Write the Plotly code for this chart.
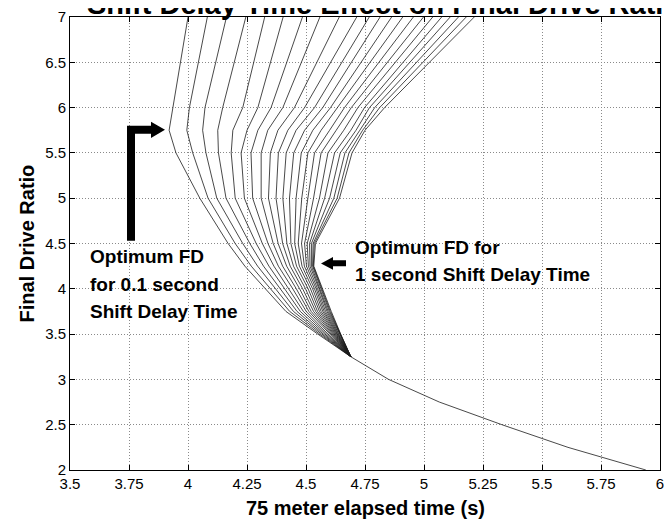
import plotly.graph_objects as go

# ---------------- data ----------------
fd_levels = [7.0, 6.0, 5.75, 5.5, 5.0, 4.5, 4.25, 4.0, 3.75, 3.5]
x_fd_700 = [4.000, 4.082, 4.163, 4.245, 4.325, 4.403, 4.485, 4.559, 4.641, 4.715, 4.768,
            4.814, 4.863, 4.910, 4.955, 4.998, 5.037, 5.075, 5.111, 5.146, 5.179, 5.213]
x_fd_600 = [3.935, 4.006, 4.072, 4.147, 4.232, 4.296, 4.352, 4.402, 4.451, 4.494, 4.536,
            4.571, 4.604, 4.635, 4.663, 4.692, 4.720, 4.748, 4.769, 4.791, 4.812, 4.833]
x_fd_575 = [3.920, 3.995, 4.062, 4.126, 4.190, 4.250, 4.296, 4.338, 4.381, 4.423, 4.458,
            4.494, 4.529, 4.564, 4.600, 4.628, 4.660, 4.690, 4.712, 4.728, 4.740, 4.750]
x_fd_550 = [3.949, 4.020, 4.076, 4.129, 4.183, 4.225, 4.267, 4.310, 4.349, 4.383, 4.416,
            4.448, 4.480, 4.508, 4.536, 4.564, 4.593, 4.621, 4.645, 4.665, 4.682, 4.695]
x_fd_500 = [4.050, 4.085, 4.122, 4.161, 4.200, 4.239, 4.274, 4.310, 4.341, 4.373, 4.402,
            4.430, 4.458, 4.482, 4.508, 4.532, 4.557, 4.579, 4.600, 4.618, 4.632, 4.642]
x_fd_450 = [4.170, 4.200, 4.232, 4.262, 4.289, 4.315, 4.339, 4.361, 4.382, 4.401, 4.419,
            4.436, 4.452, 4.467, 4.481, 4.494, 4.505, 4.515, 4.523, 4.530, 4.535, 4.540]
x_fd_425 = [4.241, 4.268, 4.295, 4.320, 4.343, 4.364, 4.383, 4.401, 4.418, 4.433, 4.447,
            4.460, 4.472, 4.483, 4.493, 4.502, 4.510, 4.517, 4.523, 4.528, 4.531, 4.533]
x_fd_400 = [4.328, 4.350, 4.372, 4.392, 4.411, 4.428, 4.444, 4.459, 4.473, 4.486, 4.498,
            4.509, 4.519, 4.528, 4.536, 4.543, 4.549, 4.555, 4.560, 4.564, 4.567, 4.569]
x_fd_375 = [4.415, 4.431, 4.447, 4.462, 4.476, 4.489, 4.501, 4.512, 4.522, 4.532, 4.541,
            4.549, 4.557, 4.564, 4.571, 4.577, 4.583, 4.589, 4.594, 4.599, 4.603, 4.607]
x_fd_350 = [4.550, 4.558, 4.566, 4.573, 4.580, 4.587, 4.593, 4.599, 4.604, 4.609, 4.614,
            4.619, 4.623, 4.627, 4.631, 4.635, 4.638, 4.641, 4.643, 4.645, 4.646, 4.647]
# common point where all curves meet, and the shared tail
merge_fd = 3.25
merge_x = 4.69
tail_fd = [3.0, 2.75, 2.5, 2.25, 2.0]
tail_x = [4.85, 5.065, 5.33, 5.61, 5.94]

x_ticks = [3.5, 3.75, 4, 4.25, 4.5, 4.75, 5, 5.25, 5.5, 5.75, 6]
x_tick_text = ["3.5", "3.75", "4", "4.25", "4.5", "4.75", "5", "5.25", "5.5", "5.75", "6"]
y_ticks = [2, 2.5, 3, 3.5, 4, 4.5, 5, 5.5, 6, 6.5, 7]
y_tick_text = ["2", "2.5", "3", "3.5", "4", "4.5", "5", "5.5", "6", "6.5", "7"]

title_text = "Shift Delay Time Effect on Final Drive Ratio"
x_title = "75 meter elapsed time (s)"
y_title = "Final Drive Ratio"
note_left = ["Optimum FD", "for 0.1 second", "Shift Delay Time"]
note_right = ["Optimum FD for", "1 second Shift Delay Time"]

# ---------------- figure ----------------
W, H = 672, 520
ML, MR, MT, MB = 62, 20, 9, 58
PW, PH = W - ML - MR, H - MT - MB
Y7, Y2 = MT, H - MB          # pixel rows of FD = 7 and FD = 2


def px(x):
    return (x - ML) / PW


def py(y):
    return (H - MB - y) / PH


def fy(fd):
    """pixel row of a final-drive value (for placing decorations)"""
    return Y2 - (fd - 2.0) / 5.0 * (Y2 - Y7)


columns = [x_fd_700, x_fd_600, x_fd_575, x_fd_550, x_fd_500, x_fd_450,
           x_fd_425, x_fd_400, x_fd_375, x_fd_350]

LINE = dict(color="#1a1a1a", width=0.8)
fig = go.Figure()
for i in range(len(x_fd_700)):
    xs = [col[i] for col in columns] + [merge_x]
    ys = fd_levels + [merge_fd]
    fig.add_trace(go.Scatter(x=xs, y=ys, mode="lines", line=LINE,
                             showlegend=False, hoverinfo="skip"))
fig.add_trace(go.Scatter(x=[merge_x] + tail_x, y=[merge_fd] + tail_fd, mode="lines",
                         line=LINE, showlegend=False, hoverinfo="skip"))

FONT = "Liberation Sans, Arial, Helvetica, sans-serif"
axis_common = dict(showline=True, linecolor="black", linewidth=1, mirror="ticks",
                   ticks="inside", ticklen=5, tickcolor="black", automargin=False,
                   showgrid=True, gridcolor="#8a8a8a", gridwidth=1, griddash="1px,2px",
                   zeroline=False, tickfont=dict(family=FONT, size=15, color="black"))

fig.update_layout(
    width=W, height=H,
    margin=dict(l=ML, r=MR, t=MT, b=MB, autoexpand=False),
    paper_bgcolor="white", plot_bgcolor="white",
    xaxis=dict(range=[3.5, 6], tickvals=x_ticks, ticktext=x_tick_text, **axis_common),
    yaxis=dict(range=[2, 7], tickvals=y_ticks, ticktext=y_tick_text, **axis_common),
    showlegend=False,
)

anns = []
anns.append(dict(text="<b>%s</b>" % title_text, x=px(376), y=py(-4), xref="paper", yref="paper",
                 xanchor="center", yanchor="middle", showarrow=False,
                 font=dict(family=FONT, size=29, color="black")))
anns.append(dict(text="<b>%s</b>" % x_title, x=px(357), y=py(500), xref="paper", yref="paper",
                 xanchor="center", yanchor="middle", showarrow=False,
                 font=dict(family=FONT, size=20, color="black")))
anns.append(dict(text="<b>%s</b>" % y_title, x=px(18), y=py(fy(4.5)), xref="paper", yref="paper",
                 xanchor="center", yanchor="middle", showarrow=False, textangle=-90,
                 font=dict(family=FONT, size=20, color="black")))
for k, fd in enumerate([4.355, 4.05, 3.75]):
    anns.append(dict(text="<b>%s</b>" % note_left[k], x=px(80), y=py(fy(fd)), xref="paper", yref="paper",
                     xanchor="left", yanchor="middle", showarrow=False,
                     font=dict(family=FONT, size=19, color="black")))
for k, fd in enumerate([4.455, 4.155]):
    anns.append(dict(text="<b>%s</b>" % note_right[k], x=px(345), y=py(fy(fd)), xref="paper", yref="paper",
                     xanchor="left", yanchor="middle", showarrow=False,
                     font=dict(family=FONT, size=19, color="black")))
fig.update_layout(annotations=anns)

# arrows (decorations: pixel columns, final-drive rows)
big_arrow = [(119, 4.53), (119, 5.80), (143, 5.80), (143, 5.845), (157, 5.755),
             (143, 5.665), (143, 5.71), (127, 5.71), (127, 4.53)]
small_arrow = [(313, 4.28), (325, 4.35), (325, 4.315), (338, 4.315), (338, 4.25),
               (325, 4.25), (325, 4.21)]


def poly_path(pts):
    s = "M %f,%f " % (px(pts[0][0]), py(fy(pts[0][1])))
    for a, b in pts[1:]:
        s += "L %f,%f " % (px(a), py(fy(b)))
    return s + "Z"


for pts in (big_arrow, small_arrow):
    fig.add_shape(type="path", path=poly_path(pts), xref="paper", yref="paper",
                  fillcolor="black", line=dict(width=0), layer="above")

fig.write_html("out.html")
